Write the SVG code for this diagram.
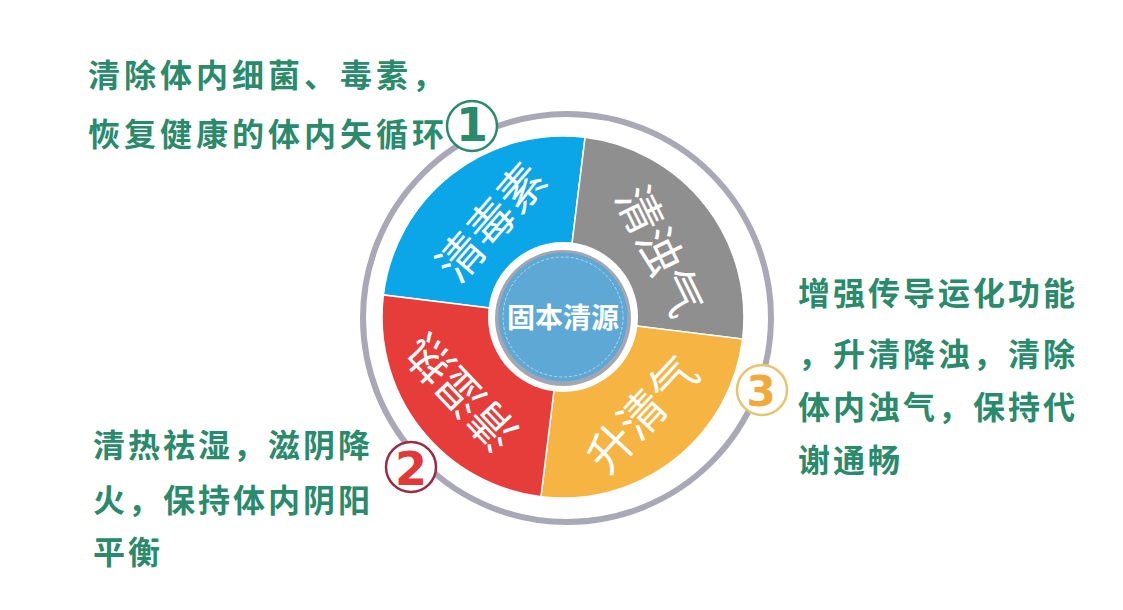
<svg xmlns="http://www.w3.org/2000/svg" width="1123" height="610" viewBox="0 0 1123 610">
<style>
.note{font-family:"Noto Sans CJK SC","Noto Sans",sans-serif;font-weight:bold;font-size:32px;fill:#2a8a6c;letter-spacing:3px}
.seg{font-family:"Noto Sans CJK SC","Noto Sans",sans-serif;font-weight:normal;font-size:46px;fill:#ffffff;text-anchor:middle}
.num{font-family:"DejaVu Sans",sans-serif;font-weight:bold;text-anchor:middle}
.badge{fill:#ffffff;stroke-width:2.5}
.wedge{stroke:#ffffff;stroke-width:1.5}
</style>
<rect width="1123" height="610" fill="#ffffff"/>
<g id="ring">
<circle cx="567" cy="318" r="204" fill="none" stroke="#a8a8b6" stroke-width="6"/>
</g>
<g id="pie">
<g id="seg-qingdusu">
<path class="wedge" d="M563,317 L383.36,294.94 A181,181 0 0 1 585.06,137.36 Z" fill="#0aa6e8"/>
<text class="seg" transform="translate(491,222) rotate(-49)" y="17">清毒素</text>
</g>
<g id="seg-qingzhuoqi">
<path class="wedge" d="M563,317 L585.06,137.36 A181,181 0 0 1 742.6,339.06 Z" fill="#8f8f8f"/>
<text class="seg" transform="translate(660,251) rotate(64)" y="17">清浊气</text>
</g>
<g id="seg-shengqingqi">
<path class="wedge" d="M563,317 L742.6,339.06 A181,181 0 0 1 540.94,496.64 Z" fill="#f6b442"/>
<text class="seg" transform="translate(642,414) rotate(-47)" y="17">升清气</text>
</g>
<g id="seg-qingshire">
<path class="wedge" d="M563,317 L540.94,496.64 A181,181 0 0 1 383.36,294.94 Z" fill="#e63d3a"/>
<text class="seg" transform="translate(461,393) rotate(-133.5)" y="17">清湿热</text>
</g>
</g>
<g id="center">
<circle cx="563" cy="317" r="75" fill="#ffffff"/>
<circle cx="563" cy="318" r="68" fill="#a4a7b1"/>
<circle cx="563" cy="317" r="64.5" fill="#5ea8d5"/>
<circle cx="563" cy="317" r="60" fill="none" stroke="#b6d7ee" stroke-width="1" stroke-dasharray="3 2"/>
<text x="563" y="328" font-family="Noto Sans CJK SC, Noto Sans, sans-serif" font-weight="bold" font-size="28" fill="#ffffff" text-anchor="middle">固本清源</text>
</g>
<g id="note1">
<text class="note" style="letter-spacing:4px" x="88" y="87">清除体内细菌、毒素，</text>
<text class="note" style="letter-spacing:4px" x="88" y="146">恢复健康的体内矢循环</text>
<circle class="badge" cx="472" cy="126" r="25" stroke="#2a8a6c"/>
<text class="num" x="472" y="141" font-size="46" fill="#2a8a6c">1</text>
</g>
<g id="note2">
<text class="note" x="93" y="457">清热祛湿，滋阴降</text>
<text class="note" x="93" y="512">火，保持体内阴阳</text>
<text class="note" x="93" y="564">平衡</text>
<circle class="badge" cx="411" cy="467" r="25" stroke="#9c2a44" stroke-width="2"/>
<text class="num" x="411" y="485" font-size="46" fill="#e0393a">2</text>
</g>
<g id="note3">
<text class="note" x="798" y="305">增强传导运化功能</text>
<text class="note" x="798" y="366">，升清降浊，清除</text>
<text class="note" x="798" y="419">体内浊气，保持代</text>
<text class="note" x="798" y="472">谢通畅</text>
<circle class="badge" cx="762" cy="390" r="25" stroke="#e9c46e" stroke-width="2"/>
<text class="num" x="761" y="406" font-size="42" fill="#f2a93b">3</text>
</g>
</svg>
